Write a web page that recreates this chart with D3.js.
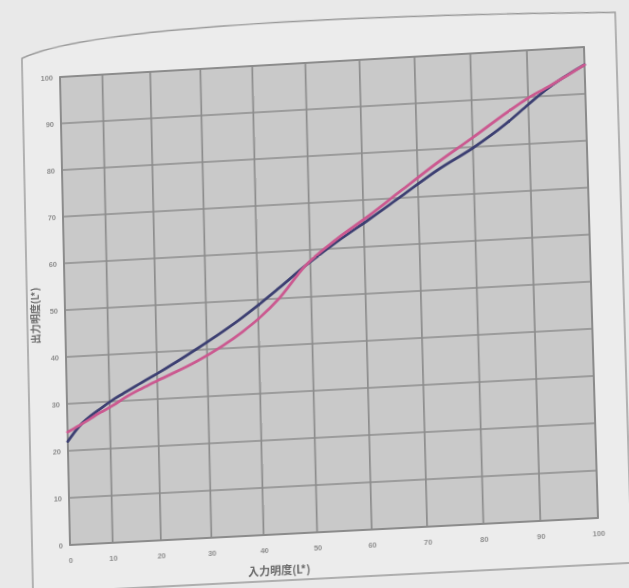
<!DOCTYPE html>
<html>
<head>
<meta charset="utf-8">
<script src="https://cdn.jsdelivr.net/npm/d3@7"></script>
<style>
  html, body { margin: 0; padding: 0; background: #e9e9e9; overflow: hidden; }
  #sheet { position: absolute; left: 0; top: 0; width: 629px; height: 588px; transform-origin: 0 0; }
  svg { display: block; }
</style>
</head>
<body>
<div id="sheet"></div>
<script>
// Input lightness (x) sampled along both curves
const inputL = [0, 3, 8, 11, 13, 17, 20, 28, 37, 40, 44, 49, 55, 61, 67, 74, 80, 86, 90, 93, 100];
// Output lightness, navy curve
const outputNavy = [22.0, 25.0, 28.6, 30.5, 31.6, 33.8, 35.4, 40.2, 46.4, 48.8, 52.2, 56.6, 61.4, 65.8, 70.4, 75.8, 79.8, 84.6, 88.4, 91.2, 96.2];
// Output lightness, pink curve
const outputPink = [24.0, 25.2, 27.8, 29.3, 30.5, 32.5, 33.9, 37.6, 43.4, 45.9, 50.0, 56.6, 62.0, 66.6, 71.6, 77.4, 82.0, 86.8, 89.8, 91.6, 96.2];
// Tick labels on both axes
const tickLabels = [0, 10, 20, 30, 40, 50, 60, 70, 80, 90, 100];
const xTitle = "入力明度(L*)";
const yTitle = "出力明度(L*)";

const PX = 60, PY = 60, W = 525, H = 470;

const svg = d3.select("#sheet").append("svg")
  .attr("width", 629).attr("height", 588);

const g = svg.append("g").attr("transform", `translate(${PX},${PY})`);

// sheet outline
const frame = d3.path();
frame.moveTo(-38, -21);
frame.bezierCurveTo(20, -46, 250, -48, W + 32, -33);
frame.lineTo(W + 32, H + 46);
frame.lineTo(-38, H + 46);
frame.closePath();
g.append("path").attr("d", frame.toString())
  .attr("fill", "#ececec").attr("stroke", "#9a9a9a").attr("stroke-width", 1.4);

const x = d3.scalePow().exponent(1.09).domain([0, 100]).range([0, W]);
const y = d3.scaleLinear().domain([0, 100]).range([H, 0]);

// plot area
g.append("rect").attr("width", W).attr("height", H)
  .attr("fill", "#c9c9c9");

// grid
g.append("g").selectAll("line").data(tickLabels).join("line")
  .attr("x1", d => x(d)).attr("x2", d => x(d))
  .attr("y1", 0).attr("y2", H)
  .attr("stroke", "#8d8d8d").attr("stroke-width", 1.7);
g.append("g").selectAll("line").data(tickLabels).join("line")
  .attr("y1", d => y(d)).attr("y2", d => y(d))
  .attr("x1", 0).attr("x2", W)
  .attr("stroke", "#8d8d8d").attr("stroke-width", 1.7);

g.append("rect").attr("width", W).attr("height", H)
  .attr("fill", "none").attr("stroke", "#8a8a8a").attr("stroke-width", 1.8);

// axes labels
const xAxis = g.append("g").attr("transform", `translate(0,${H})`)
  .call(d3.axisBottom(x).tickValues(tickLabels).tickSize(0).tickPadding(13));
const yAxis = g.append("g")
  .call(d3.axisLeft(y).tickValues(tickLabels).tickSize(0).tickPadding(7));
[xAxis, yAxis].forEach(a => {
  a.select(".domain").remove();
  a.selectAll("text").attr("fill", "#8f8f8f")
    .attr("font-family", "Liberation Sans, Arial, sans-serif")
    .attr("font-size", 7.5).attr("font-weight", "bold");
});

g.append("text").attr("x", 208).attr("y", H + 40)
  .attr("text-anchor", "middle")
  .attr("font-family", "Noto Sans CJK JP, sans-serif")
  .attr("font-size", 11).attr("font-weight", "bold").attr("fill", "#6a6a6a")
  .text(xTitle);

g.append("text")
  .attr("transform", `translate(-26,${H / 2 + 4}) rotate(-90)`)
  .attr("text-anchor", "middle")
  .attr("font-family", "Noto Sans CJK JP, sans-serif")
  .attr("font-size", 10).attr("font-weight", "bold").attr("fill", "#6a6a6a")
  .text(yTitle);

// curves
const line = d3.line().x(d => x(d[0])).y(d => y(d[1])).curve(d3.curveMonotoneX);
const navy = d3.zip(inputL, outputNavy);
const pink = d3.zip(inputL, outputPink);

g.append("path").datum(navy).attr("d", line)
  .attr("fill", "none").attr("stroke", "#3c3f72").attr("stroke-width", 2.8)
  .attr("stroke-linejoin", "round").attr("stroke-linecap", "round");
g.append("path").datum(pink).attr("d", line)
  .attr("fill", "none").attr("stroke", "#cb5990").attr("stroke-width", 2.8)
  .attr("stroke-linejoin", "round").attr("stroke-linecap", "round");

// projective placement of the sheet: plot rectangle -> its corners on the page
const quad = [[60, 77], [584, 47], [598, 518], [70, 545]];
function squareToQuad(q) {
  const [[x0, y0], [x1, y1], [x2, y2], [x3, y3]] = q;
  const sx = x0 - x1 + x2 - x3, sy = y0 - y1 + y2 - y3;
  const dx1 = x1 - x2, dx2 = x3 - x2, dy1 = y1 - y2, dy2 = y3 - y2;
  const den = dx1 * dy2 - dx2 * dy1;
  const gg = (sx * dy2 - dx2 * sy) / den;
  const hh = (dx1 * sy - sx * dy1) / den;
  return {
    a: x1 - x0 + gg * x1, b: x3 - x0 + hh * x3, c: x0,
    d: y1 - y0 + gg * y1, e: y3 - y0 + hh * y3, f: y0,
    g: gg, h: hh
  };
}
const m = squareToQuad(quad);
const A = m.a / W, B = m.b / H, C = m.c - m.a * PX / W - m.b * PY / H;
const D = m.d / W, E = m.e / H, F = m.f - m.d * PX / W - m.e * PY / H;
const G = m.g / W, Hh = m.h / H, K = 1 - m.g * PX / W - m.h * PY / H;
d3.select("#sheet").style("transform",
  `matrix3d(${A},${D},0,${G},${B},${E},0,${Hh},0,0,1,0,${C},${F},0,${K})`);
</script>
</body>
</html>
